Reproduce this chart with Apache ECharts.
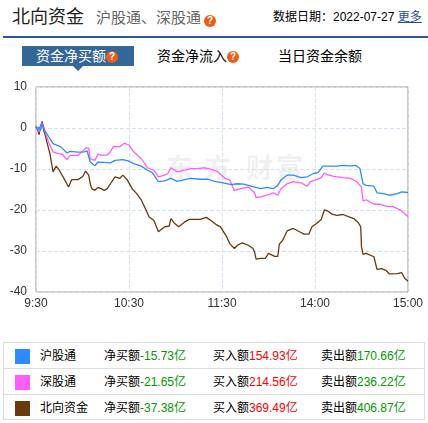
<!DOCTYPE html>
<html><head><meta charset="utf-8">
<script src="https://cdn.jsdelivr.net/npm/echarts@6/dist/echarts.min.js"></script>
<style>
html,body{margin:0;padding:0;}
body{width:428px;height:423px;overflow:hidden;background:#fff;position:relative;font-family:"Liberation Sans",Arial,"Noto Sans CJK SC",sans-serif;}
.abs{position:absolute;white-space:nowrap;}
.q{display:inline-block;width:12px;height:12px;border-radius:6px;background:#f25a11;color:#fff;font-size:10px;font-weight:bold;line-height:12px;text-align:center;vertical-align:middle;font-family:Arial,sans-serif;}
#chart{position:absolute;left:0;top:80px;width:428px;height:232px;}
#tbl{position:absolute;left:3px;top:342px;width:420px;height:76px;border:1px solid #ddd;}
.row{position:absolute;left:0;width:420px;height:26px;font-size:12px;line-height:26px;color:#000;}
.row .c{position:absolute;white-space:nowrap;}
.sq{position:absolute;left:11px;top:6px;width:15px;height:15px;}
</style></head><body>
<div class="abs" style="left:12px;top:5px;font-size:18px;line-height:24px;color:#222;">北向资金</div>
<div class="abs" style="left:96px;top:8px;font-size:15px;line-height:20px;color:#666;">沪股通、深股通</div>
<div class="abs" style="left:204px;top:11px;"><span class="q">?</span></div>
<div class="abs" style="left:273px;top:8px;font-size:12px;line-height:18px;color:#000;">数据日期：2022-07-27 <span style="color:#1a4ea0;text-decoration:underline;">更多</span></div>
<div class="abs" style="left:3px;top:36px;width:425px;height:2px;background:#2c5a96;"></div>
<div class="abs" style="left:22px;top:46px;width:112px;height:20px;background:#336699;"></div>
<div class="abs" style="left:73px;top:66px;width:0;height:0;border-left:5px solid transparent;border-right:5px solid transparent;border-top:5px solid #336699;"></div>
<div class="abs" style="left:36px;top:46px;font-size:14px;line-height:20px;color:#fff;">资金净买额<span class="q">?</span></div>
<div class="abs" style="left:157px;top:46px;font-size:14px;line-height:20px;color:#000;">资金净流入<span class="q">?</span></div>
<div class="abs" style="left:278px;top:46px;font-size:14px;line-height:20px;color:#000;">当日资金余额</div>
<div id="chart"></div>
<div id="tbl"></div>
<script>
// ---- data ----
const xTickLabels = ['9:30', '10:30', '11:30', '14:00', '15:00'];
const seriesNames = ['沪股通', '深股通', '北向资金'];
const seriesColors = ['#2e8bff', '#ff5cff', '#6b3a0c'];

// trading minutes since 9:30 (0..240) and net buy (亿)
const shT = [0,1,2,3,4,5,7,11,16,20,22,27,31,33,34,35,38,40,44,48,51,56,60,63,68,72,75,79,83,87,91,96,100,106,111,115,120,126,130,134,141,145,149,153,156,158,162,166,171,175,179,182,185,188,194,198,203,206,209,211,213,218,220,224,228,233,236,240];
const shV = [0.4,-0.5,0.3,-0.6,1.2,-0.2,-1.4,-3.8,-4.6,-6.1,-5.7,-5.9,-5.8,-5.6,-7.0,-8.3,-9.2,-8.3,-8.4,-8.5,-7.9,-7.7,-8.1,-8.7,-9.3,-10.3,-10.9,-13.1,-12.9,-12.3,-13.0,-12.6,-12.3,-12.5,-12.5,-13.0,-13.3,-13.8,-13.6,-13.7,-14.4,-14.8,-14.5,-14.8,-14.0,-12.7,-11.5,-11.5,-12.1,-11.9,-11.1,-10.9,-9.3,-9.3,-9.3,-9.1,-9.25,-9.1,-9.9,-13.6,-14.0,-14.2,-15.8,-16.0,-16.4,-16.0,-15.6,-15.73];

const szT = [0,1,2,3,4,5,8,11,14,17,20,22,27,30,32,34,35,38,40,42,46,48,50,54,57,60,63,68,72,76,79,83,85,87,91,96,100,104,109,113,117,122,125,128,132,137,141,142,145,149,153,156,158,162,166,171,175,177,181,184,186,188,192,198,203,207,210,211,213,218,222,226,230,235,238,240];
const szV = [0.5,0,-0.9,0.2,1.3,0.2,-3.4,-5.8,-6.2,-6.4,-7.7,-6.7,-6.7,-5.7,-4.9,-4.9,-7.5,-7.9,-6.4,-6.6,-6.6,-5.8,-4.5,-4.6,-3.7,-4.2,-5.8,-7.5,-9.7,-10.3,-11.9,-11.5,-11.1,-9.7,-10.7,-10.3,-9.9,-9.9,-9.7,-10.1,-10.6,-12.3,-12.7,-15.3,-14.8,-14.4,-15.8,-17.0,-16.8,-16.4,-15.8,-16.4,-14.8,-13.6,-13.1,-13.4,-14.2,-13.1,-12.6,-12.1,-11.0,-11.4,-11.8,-12.1,-12.3,-13.1,-14.5,-17.8,-17.5,-18.6,-18.6,-19.1,-19.1,-20.0,-20.9,-21.65];

const nbT = [0,1,2,3,4,5,6,7,9,11,13,15,18,21,23,27,30,32,34,35,36,38,40,42,44,46,48,51,54,56,59,62,65,68,71,73,76,79,83,86,87,89,92,96,99,102,106,110,113,116,119,123,125,128,130,133,137,140,141,142,145,148,150,151,154,156,157,159,162,166,170,173,176,178,181,184,186,188,191,194,198,202,205,208,209.5,210,211,213,218,220,223,226,228,233,236,238,240];
const nbV = [0.3,-0.4,-1.6,0.5,1.6,-0.6,-1.8,-3.4,-6.3,-10.7,-9.3,-10.3,-12.3,-14.4,-12.6,-12.6,-11.9,-10.5,-11.5,-13.6,-14.8,-15.2,-14.5,-14.8,-15.2,-14.8,-13.6,-11.9,-12.3,-11.5,-12.7,-14.8,-16.0,-17.6,-20.0,-21.7,-22.5,-25.3,-24.1,-23.9,-22.1,-23.1,-24.1,-22.9,-22.3,-22.3,-22.3,-21.8,-22.6,-23.5,-24.1,-26.5,-28.2,-29.4,-28.6,-28.0,-28.6,-29.4,-30.2,-32.0,-31.8,-31.8,-30.6,-30.4,-31.3,-31.3,-28.3,-27.5,-25.1,-24.5,-25.3,-25.9,-25.9,-24.1,-23.3,-22.3,-20.0,-20.2,-21.0,-21.3,-21.1,-21.7,-22.1,-23.1,-24.1,-29.0,-30.8,-30.6,-31.4,-34.5,-34.3,-34.8,-35.6,-35.5,-35.3,-36.7,-37.38];

// summary table
const netBuy = ['-15.73', '-21.65', '-37.38'];
const buyIn = ['154.93', '214.56', '369.49'];
const sellOut = ['170.66', '236.22', '406.87'];

// watermark characters
const watermarkChars = ['东', '方', '财', '富'];
const watermarkLeft = [166, 204, 246, 276];

// ---- table ----
const tbl = document.getElementById('tbl');
seriesNames.forEach((n, i) => {
  const r = document.createElement('div');
  r.className = 'row';
  r.style.top = (i * 26) + 'px';
  if (i > 0) { r.style.borderTop = '1px solid #ddd'; r.style.top = (i * 26 - 1) + 'px'; }
  r.innerHTML =
    '<div class="sq" style="background:' + seriesColors[i] + '"></div>' +
    '<div class="c" style="left:36px">' + n + '</div>' +
    '<div class="c" style="left:100px">净买额<span style="color:#090">' + netBuy[i] + '亿</span></div>' +
    '<div class="c" style="left:209px">买入额<span style="color:#f00">' + buyIn[i] + '亿</span></div>' +
    '<div class="c" style="left:317px">卖出额<span style="color:#090">' + sellOut[i] + '亿</span></div>';
  tbl.appendChild(r);
});

// ---- chart ----
const zip = (t, v) => t.map((x, k) => [x, v[k]]);
const seriesData = [zip(shT, shV), zip(szT, szV), zip(nbT, nbV)];
const chart = echarts.init(document.getElementById('chart'));
chart.setOption({
  animation: false,
  grid: { left: 36, right: 20, top: 7, bottom: 20, show: true, borderColor: '#9a9a9a', borderWidth: 1, outerBoundsMode: 'none' },
  graphic: watermarkChars.map((ch, k) => ({
    type: 'text', left: watermarkLeft[k], top: 74, silent: true, z: 0,
    style: { text: ch, font: 'bold 27px "Noto Sans CJK SC"', fill: 'rgba(0,0,0,0.06)' }
  })),
  xAxis: {
    type: 'value', min: 0, max: 240, interval: 60,
    axisLine: { show: false }, axisTick: { show: false },
    axisLabel: { formatter: v => xTickLabels[Math.round(v / 60)], color: '#333', fontSize: 12, margin: 6, showMinLabel: true, showMaxLabel: true, fontFamily: 'Liberation Sans, Arial' },
    splitLine: { show: true, lineStyle: { type: 'dashed', color: '#d3e1f0', width: 1 } }
  },
  yAxis: {
    type: 'value', min: -40, max: 10, interval: 10,
    axisLine: { show: false }, axisTick: { show: false },
    axisLabel: { color: '#333', fontSize: 12, margin: 9, fontFamily: 'Liberation Sans, Arial' },
    splitLine: { show: true, lineStyle: { type: 'dashed', color: '#d3e1f0', width: 1 } }
  },
  series: seriesNames.map((n, i) => ({
    name: n, type: 'line', data: seriesData[i], showSymbol: false, symbol: 'none',
    lineStyle: { color: seriesColors[i], width: 1.3 }, z: 3 - i + 2
  }))
});
</script>
</body></html>
